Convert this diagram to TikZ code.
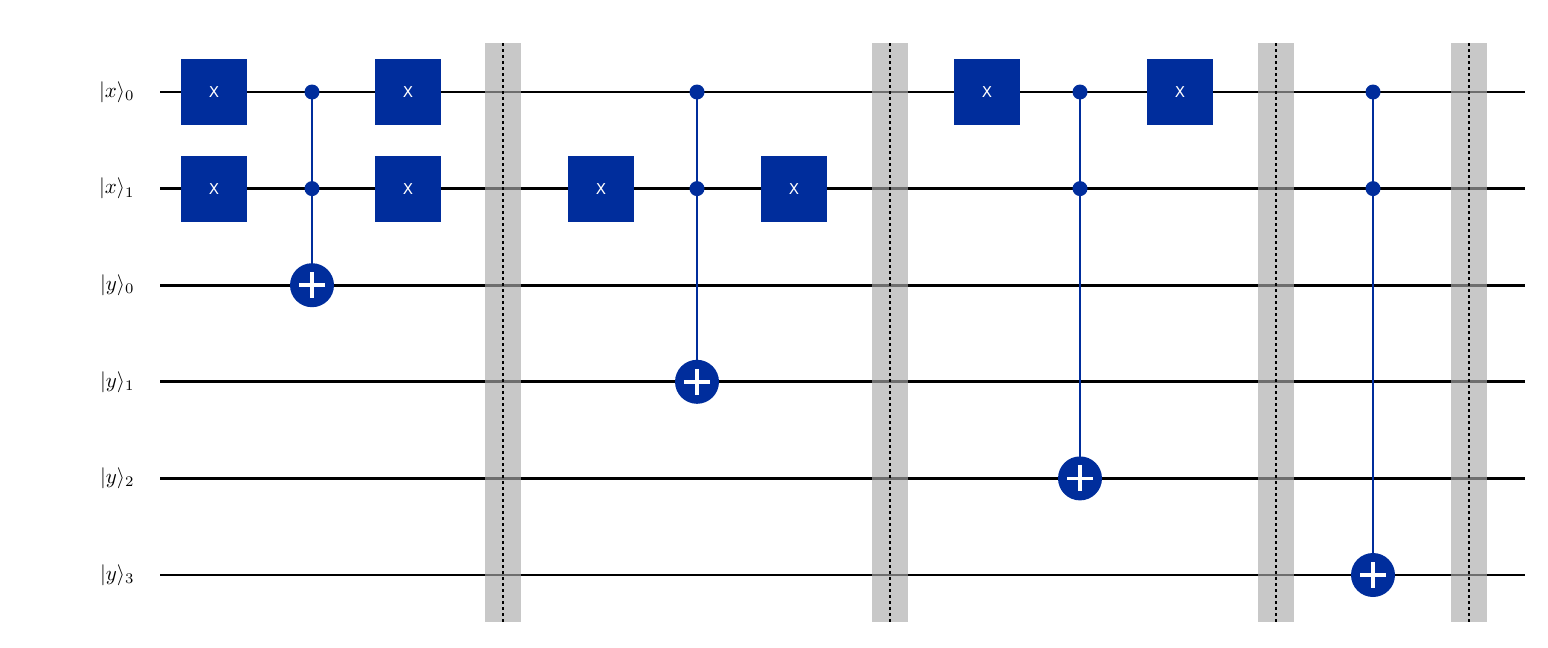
\documentclass[tikz,border=0pt]{standalone}
\usepackage{fontspec}
\setsansfont{DejaVu Sans}
\usetikzlibrary{positioning,calc}
\definecolor{qblue}{RGB}{0,45,156}
\definecolor{barriergray}{RGB}{170,170,170}
\tikzset{
    % gate and wire styles
    wire/.style={line width=2.8pt, black},
    xgate/.style={rectangle, fill=qblue, minimum width=66pt, minimum height=66pt,
        inner sep=0pt, text=white, font=\sffamily\fontsize{15}{18}\selectfont},
    ctrl/.style={circle, fill=qblue, minimum size=15pt, inner sep=0pt},
    target/.style={circle, fill=qblue, minimum size=44pt, inner sep=0pt},
    link/.style={qblue, line width=2.2pt},
    barrierband/.style={fill=barriergray, fill opacity=0.65, draw=none},
    qlabel/.style={anchor=east, scale=2.1}
}
\begin{document}
\begin{tikzpicture}[x=1pt, y=-1pt]
\useasboundingbox (0,0) rectangle (1548,648);

% wires and labels
\foreach \name/\q/\k [count=\i from 0] in {x0/x/0, x1/x/1, y0/y/0, y1/y/1, y2/y/2, y3/y/3} {
    \draw[wire] (160,{92+96.6*\i}) -- (1525,{92+96.6*\i});
    \node[qlabel] (lab_\name) at (142,{92+96.6*\i}) {$|\q\rangle_{\k}$};
}

% barriers
\foreach \bx in {503,890,1276,1469} {
    \fill[barrierband] (\bx-18,43) rectangle (\bx+18,622);
    \draw[black, dashed, line width=1.2pt] (\bx,43) -- (\bx,622);
}

% X gates
\foreach \gx/\row in {214/0, 214/1, 408/0, 408/1, 601/1, 794/1, 987/0, 1180/0} {
    \node[xgate] (xg_\gx_\row) at (\gx,{92+96.6*\row}) {X};
}

% Toffoli gates
\foreach \cx/\trow in {312/2, 697/3, 1080/4, 1373/5} {
    \node[ctrl] (c0_\cx) at (\cx,92) {};
    \node[ctrl] (c1_\cx) at (\cx,188.6) {};
    \node[target] (t_\cx) at (\cx,{92+96.6*\trow}) {};
    \draw[link] (c0_\cx.center) -- (t_\cx.center);
    \draw[white, line width=3.5pt] ($(t_\cx.center)+(-13,0)$) -- ($(t_\cx.center)+(13,0)$);
    \draw[white, line width=3.5pt] ($(t_\cx.center)+(0,-13)$) -- ($(t_\cx.center)+(0,13)$);
}

\end{tikzpicture}
\end{document}
